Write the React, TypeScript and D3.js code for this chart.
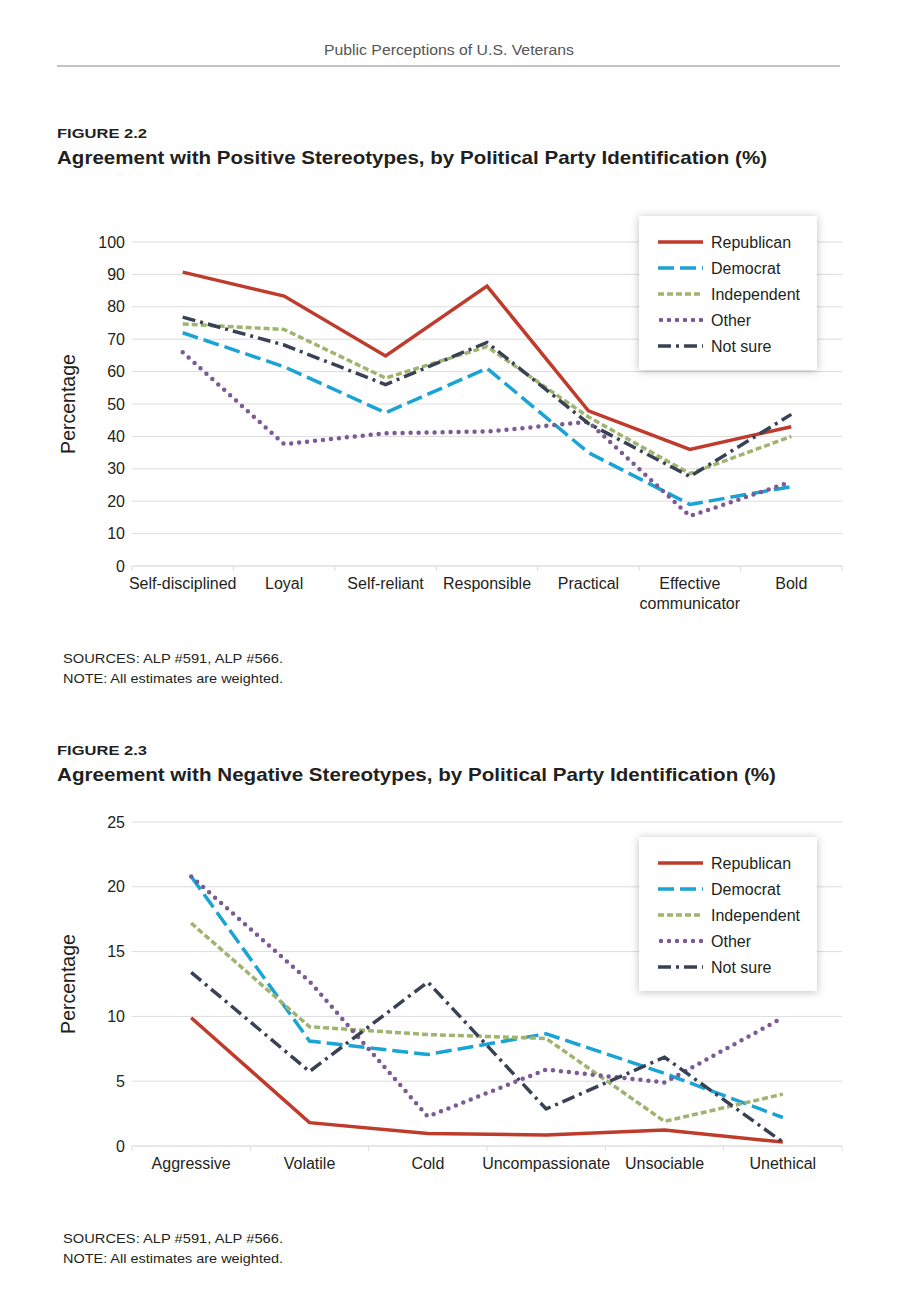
import React from "react";
import * as d3 from "d3";

const series = ["Republican", "Democrat", "Independent", "Other", "Not sure"];

const posCategories = ["Self-disciplined", "Loyal", "Self-reliant", "Responsible", "Practical", "Effective\ncommunicator", "Bold"];
const posRepublican = [90.7, 83.3, 64.8, 86.4, 47.9, 36, 43];
const posDemocrat = [72, 61.5, 47.3, 61, 35, 19, 24.5];
const posIndependent = [74.7, 73, 58, 67.7, 46, 28.5, 40];
const posOther = [66, 37.6, 41, 41.5, 44.5, 15.4, 26];
const posNotSure = [76.8, 68.2, 56, 69, 44, 27.6, 46.8];
const posTicks = [0, 10, 20, 30, 40, 50, 60, 70, 80, 90, 100];

const negCategories = ["Aggressive", "Volatile", "Cold", "Uncompassionate", "Unsociable", "Unethical"];
const negRepublican = [9.9, 1.8, 0.97, 0.85, 1.24, 0.3];
const negDemocrat = [20.8, 8.1, 7.06, 8.66, 5.6, 2.2];
const negIndependent = [17.2, 9.2, 8.6, 8.3, 1.9, 4.0];
const negOther = [20.8, 12.7, 2.27, 5.9, 4.9, 9.9];
const negNotSure = [13.4, 5.75, 12.65, 2.86, 6.85, 0.3];
const negTicks = [0, 5, 10, 15, 20, 25];

const styles: Record<string, { color: string; dash: string; width: number; cap: string }> = {
  Republican: { color: "#bf3b2b", dash: "", width: 3.5, cap: "butt" },
  Democrat: { color: "#1aa3d5", dash: "16 6", width: 3.5, cap: "butt" },
  Independent: { color: "#9fb46e", dash: "6 3", width: 3.5, cap: "butt" },
  Other: { color: "#7a5b94", dash: "0 8", width: 4.5, cap: "round" },
  "Not sure": { color: "#394154", dash: "13 5 3 5", width: 3.5, cap: "butt" },
};

const FONT = "'Liberation Sans', Arial, Helvetica, sans-serif";
const TEXT = "#231f20";

type ChartProps = {
  categories: string[];
  data: number[][];
  ticks: number[];
  yMax: number;
  top: number;
  bottom: number;
  legendTop: number;
};

function Chart({ categories, data, ticks, yMax, top, bottom, legendTop }: ChartProps) {
  const x = d3.scaleBand<string>().domain(categories).range([132, 842]);
  const y = d3.scaleLinear().domain([0, yMax]).range([bottom, top]);
  const line = d3
    .line<number>()
    .x((_, i) => (x(categories[i]) as number) + x.bandwidth() / 2)
    .y((v) => y(v));
  const legendX = 639;
  const legendW = 178;
  const legendH = 154;
  return (
    <g>
      {ticks.map((t) => (
        <g key={t}>
          <line x1={132} x2={842} y1={y(t)} y2={y(t)} stroke={t === 0 ? "#cfcfcf" : "#dcdcdc"} strokeWidth={1} />
          <text x={125} y={y(t)} dy="0.35em" textAnchor="end" fontSize={16} fill={TEXT} fontFamily={FONT}>
            {t}
          </text>
        </g>
      ))}
      {categories.map((c, i) => (
        <line key={"tk" + i} x1={x(c) as number} x2={x(c) as number} y1={bottom} y2={bottom + 5} stroke="#dcdcdc" />
      ))}
      <line x1={842} x2={842} y1={bottom} y2={bottom + 5} stroke="#dcdcdc" />
      {categories.map((c) => {
        const lines = c.split("\n");
        return (
          <text
            key={c}
            x={(x(c) as number) + x.bandwidth() / 2}
            y={bottom + 23}
            textAnchor="middle"
            fontSize={16}
            fill={TEXT}
            fontFamily={FONT}
          >
            {lines.map((l, i) => (
              <tspan key={i} x={(x(c) as number) + x.bandwidth() / 2} dy={i === 0 ? 0 : 20}>
                {l}
              </tspan>
            ))}
          </text>
        );
      })}
      <text
        transform={`translate(75,${(top + bottom) / 2}) rotate(-90)`}
        textAnchor="middle"
        fontSize={19.5}
        fill={TEXT}
        fontFamily={FONT}
      >
        Percentage
      </text>
      {series.map((s, i) => {
        const st = styles[s];
        return (
          <path
            key={s}
            d={line(data[i]) || ""}
            fill="none"
            stroke={st.color}
            strokeWidth={st.width}
            strokeDasharray={st.dash || undefined}
            strokeLinecap={st.cap as any}
            strokeLinejoin="miter"
          />
        );
      })}
      <rect x={legendX} y={legendTop} width={legendW} height={legendH} fill="#fff" filter="url(#shadow)" />
      {series.map((s, i) => {
        const st = styles[s];
        const ly = legendTop + 26 + i * 26;
        return (
          <g key={"lg" + s}>
            <line
              x1={s === "Other" ? 661 : 658}
              x2={s === "Other" ? 705 : 703}
              y1={ly}
              y2={ly}
              stroke={st.color}
              strokeWidth={st.width}
              strokeDasharray={st.dash || undefined}
              strokeLinecap={st.cap as any}
            />
            <text x={711} y={ly} dy="0.35em" fontSize={16} fill={TEXT} fontFamily={FONT}>
              {s}
            </text>
          </g>
        );
      })}
    </g>
  );
}

export default function App() {
  const posData = [posRepublican, posDemocrat, posIndependent, posOther, posNotSure];
  const negData = [negRepublican, negDemocrat, negIndependent, negOther, negNotSure];
  return (
    <svg
      width={909}
      height={1298}
      style={{ position: "absolute", left: 0, top: 0, background: "#fff", display: "block" }}
    >
      <defs>
        <filter id="shadow" x="-20%" y="-20%" width="140%" height="140%">
          <feDropShadow dx={0} dy={1} stdDeviation={4} floodColor="#000" floodOpacity={0.25} />
        </filter>
      </defs>
      <rect x={0} y={0} width={909} height={1298} fill="#fff" />
      <text x={324} y={55} fontSize={15} fill="#555" fontFamily={FONT} textLength={250} lengthAdjust="spacingAndGlyphs">
        Public Perceptions of U.S. Veterans
      </text>
      <line x1={57} x2={840} y1={66} y2={66} stroke="#888" strokeWidth={1} />

      <text x={57} y={138} fontSize={13.5} fontWeight="bold" fill={TEXT} fontFamily={FONT} textLength={90} lengthAdjust="spacingAndGlyphs">
        FIGURE 2.2
      </text>
      <text x={57} y={164} fontSize={18.5} fontWeight="bold" fill={TEXT} fontFamily={FONT} textLength={710} lengthAdjust="spacingAndGlyphs">
        Agreement with Positive Stereotypes, by Political Party Identification (%)
      </text>
      <Chart categories={posCategories} data={posData} ticks={posTicks} yMax={100} top={242} bottom={566} legendTop={216} />
      <text x={63} y={663} fontSize={13.5} fill={TEXT} fontFamily={FONT} textLength={220} lengthAdjust="spacingAndGlyphs">
        SOURCES: ALP #591, ALP #566.
      </text>
      <text x={63} y={683} fontSize={13.5} fill={TEXT} fontFamily={FONT} textLength={220} lengthAdjust="spacingAndGlyphs">
        NOTE: All estimates are weighted.
      </text>

      <text x={57} y={755} fontSize={13.5} fontWeight="bold" fill={TEXT} fontFamily={FONT} textLength={90} lengthAdjust="spacingAndGlyphs">
        FIGURE 2.3
      </text>
      <text x={57} y={781} fontSize={18.5} fontWeight="bold" fill={TEXT} fontFamily={FONT} textLength={719} lengthAdjust="spacingAndGlyphs">
        Agreement with Negative Stereotypes, by Political Party Identification (%)
      </text>
      <Chart categories={negCategories} data={negData} ticks={negTicks} yMax={25} top={822} bottom={1146} legendTop={837} />
      <text x={63} y={1243} fontSize={13.5} fill={TEXT} fontFamily={FONT} textLength={220} lengthAdjust="spacingAndGlyphs">
        SOURCES: ALP #591, ALP #566.
      </text>
      <text x={63} y={1263} fontSize={13.5} fill={TEXT} fontFamily={FONT} textLength={220} lengthAdjust="spacingAndGlyphs">
        NOTE: All estimates are weighted.
      </text>
    </svg>
  );
}
